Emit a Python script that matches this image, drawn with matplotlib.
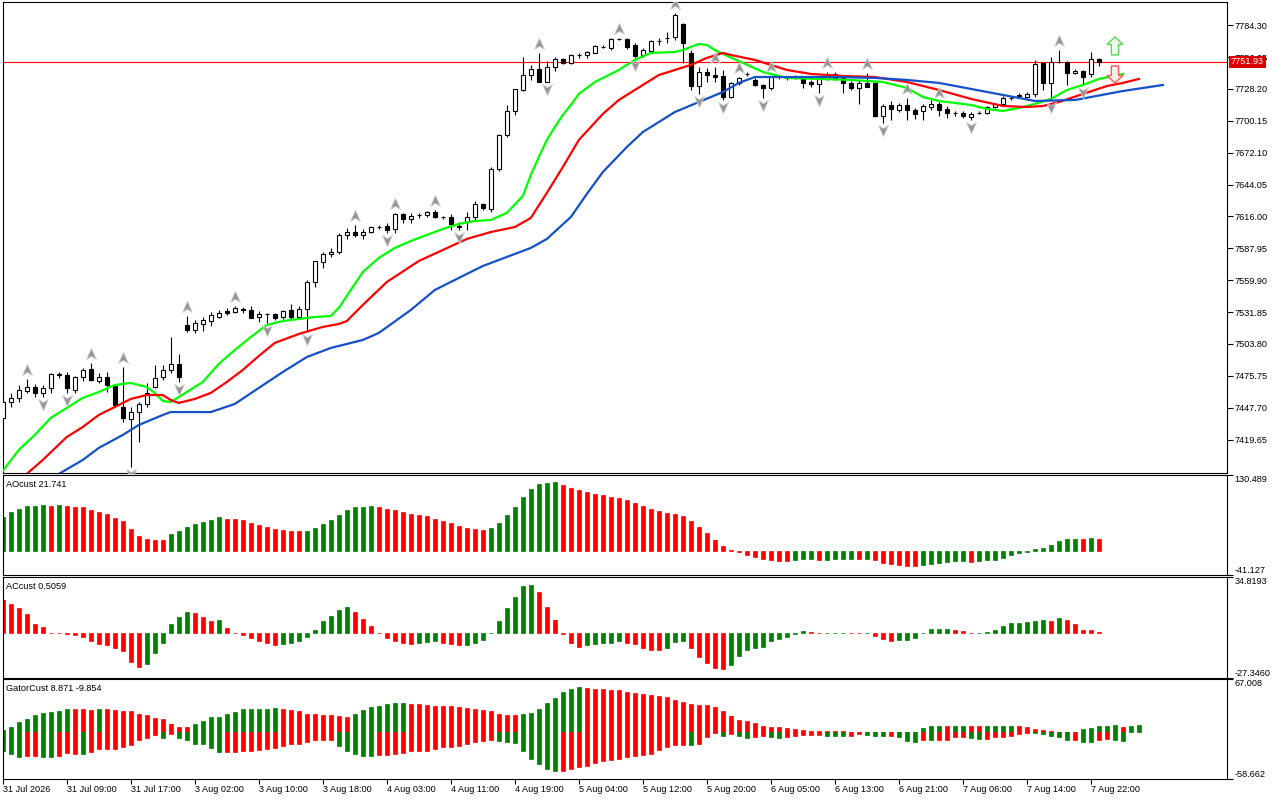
import matplotlib
matplotlib.use("Agg")
import matplotlib.pyplot as plt
from matplotlib.path import Path
from matplotlib.patches import FancyArrow
import numpy as np

plt.rcParams['font.family'] = ['Liberation Sans', 'DejaVu Sans']
plt.rcParams['font.size'] = 6.6

# ---------------- price bars, H1 ----------------
opens = [7438.7, 7452.7, 7456.3, 7462.4, 7465.9, 7460.7, 7465.1, 7477.4, 7476.5, 7463.3,
         7474.7, 7481.8, 7471.2, 7474.7, 7466.8, 7448.3, 7437.8, 7443.9, 7451.0, 7465.9,
         7474.7, 7480.9, 7486.2, 7520.5, 7516.1, 7521.4, 7524.0, 7527.5, 7532.8, 7531.9,
         7534.6, 7533.7, 7527.5, 7530.2, 7530.2, 7527.5, 7533.7, 7527.5, 7534.6, 7558.3,
         7575.9, 7583.0, 7584.7, 7599.7, 7602.3, 7599.7, 7602.3, 7606.7, 7607.6, 7605.0,
         7618.2, 7613.8, 7617.3, 7617.3, 7619.9, 7615.5, 7615.5, 7607.6, 7611.1, 7615.5,
         7627.0, 7622.6, 7657.8, 7687.7, 7708.8, 7727.3, 7740.5, 7745.8, 7734.3, 7747.5,
         7754.6, 7751.1, 7758.1, 7758.1, 7759.9, 7765.1, 7764.3, 7772.2, 7772.2, 7766.9,
         7758.1, 7761.6, 7770.4, 7773.1, 7773.9, 7785.4, 7759.9, 7730.8, 7743.1, 7740.5,
         7739.6, 7721.1, 7733.5, 7741.4, 7736.1, 7731.7, 7729.1, 7738.7, 7737.9, 7738.7,
         7737.9, 7734.3, 7732.6, 7737.0, 7741.4, 7737.9, 7733.5, 7729.1, 7733.5, 7733.5,
         7704.4, 7714.1, 7709.7, 7714.1, 7709.7, 7708.8, 7712.3, 7715.0, 7710.6, 7707.1,
         7707.1, 7703.5, 7707.1, 7707.1, 7712.3, 7715.0, 7720.3, 7722.9, 7721.1, 7723.8,
         7751.1, 7733.5, 7751.9, 7751.9, 7742.3, 7744.0, 7741.4, 7754.6]
highs = [7455.4, 7460.7, 7467.7, 7473.0, 7468.6, 7467.7, 7478.3, 7479.1, 7479.1, 7475.6,
         7482.7, 7487.1, 7478.3, 7479.1, 7467.7, 7483.5, 7448.3, 7452.7, 7469.5, 7485.3,
         7485.3, 7509.9, 7495.0, 7528.4, 7524.9, 7527.5, 7531.9, 7533.7, 7535.5, 7537.2,
         7536.3, 7537.2, 7532.8, 7531.1, 7531.1, 7533.7, 7539.0, 7537.2, 7560.1, 7576.8,
         7584.7, 7588.3, 7601.5, 7605.9, 7608.5, 7605.0, 7607.6, 7608.5, 7610.3, 7619.1,
         7619.1, 7619.1, 7619.1, 7620.8, 7621.7, 7616.4, 7618.2, 7611.1, 7619.9, 7629.6,
         7627.9, 7659.5, 7688.6, 7714.1, 7728.2, 7756.3, 7749.3, 7759.9, 7752.8, 7756.3,
         7755.5, 7759.0, 7759.9, 7761.6, 7766.9, 7766.9, 7773.1, 7773.1, 7773.1, 7768.7,
         7764.3, 7771.3, 7773.1, 7778.3, 7795.1, 7786.3, 7762.5, 7747.5, 7746.7, 7747.5,
         7744.9, 7734.3, 7738.7, 7743.1, 7737.9, 7732.6, 7739.6, 7739.6, 7739.6, 7740.5,
         7739.6, 7736.1, 7738.7, 7743.1, 7743.1, 7739.6, 7735.2, 7736.1, 7742.3, 7734.3,
         7715.0, 7717.6, 7715.9, 7720.3, 7711.5, 7715.0, 7718.5, 7716.7, 7713.2, 7708.8,
         7708.8, 7707.9, 7708.8, 7713.2, 7715.9, 7722.0, 7722.0, 7724.7, 7725.5, 7753.7,
         7751.1, 7756.3, 7762.5, 7752.8, 7745.8, 7744.9, 7760.7, 7755.5]
lows = [7436.9, 7448.3, 7452.7, 7460.7, 7457.1, 7457.1, 7460.7, 7473.9, 7460.7, 7460.7,
        7471.2, 7471.2, 7469.5, 7461.5, 7448.3, 7435.1, 7395.5, 7417.5, 7448.3, 7465.1,
        7472.1, 7478.3, 7470.3, 7514.3, 7513.5, 7515.2, 7519.6, 7526.7, 7529.3, 7531.1,
        7531.1, 7526.7, 7523.1, 7522.3, 7524.9, 7525.8, 7525.8, 7525.8, 7514.3, 7553.9,
        7570.7, 7580.3, 7583.0, 7596.2, 7597.9, 7596.2, 7601.5, 7605.0, 7601.5, 7601.5,
        7610.3, 7610.3, 7614.7, 7615.5, 7614.7, 7613.8, 7604.1, 7604.1, 7604.1, 7612.9,
        7621.7, 7619.9, 7656.0, 7685.9, 7705.3, 7726.4, 7736.1, 7734.3, 7734.3, 7744.0,
        7750.2, 7750.2, 7755.5, 7755.5, 7759.9, 7764.3, 7762.5, 7771.3, 7763.4, 7755.5,
        7756.3, 7760.7, 7766.9, 7768.7, 7771.3, 7751.1, 7727.3, 7723.8, 7734.3, 7734.3,
        7718.5, 7720.3, 7731.7, 7739.6, 7730.8, 7720.3, 7727.3, 7737.0, 7736.1, 7737.0,
        7729.1, 7729.9, 7724.7, 7736.1, 7736.1, 7724.7, 7727.3, 7715.0, 7729.9, 7703.5,
        7698.3, 7700.9, 7707.9, 7700.9, 7701.8, 7700.9, 7709.7, 7704.4, 7702.7, 7704.4,
        7702.7, 7700.9, 7706.2, 7706.2, 7711.5, 7714.1, 7718.5, 7720.3, 7720.3, 7721.1,
        7727.3, 7718.5, 7751.1, 7731.7, 7741.4, 7731.7, 7738.7, 7748.4]
closes = [7452.7, 7456.3, 7463.3, 7465.9, 7460.7, 7465.1, 7477.4, 7476.9, 7465.1, 7474.7,
          7480.9, 7472.1, 7474.7, 7467.7, 7450.1, 7438.7, 7443.9, 7451.0, 7460.7, 7473.9,
          7480.9, 7486.2, 7474.7, 7516.1, 7522.3, 7524.9, 7529.3, 7531.1, 7531.1, 7535.5,
          7533.7, 7526.7, 7530.2, 7530.2, 7526.7, 7532.8, 7527.5, 7534.6, 7558.3, 7576.8,
          7583.0, 7584.7, 7599.7, 7602.3, 7599.7, 7602.3, 7606.7, 7606.7, 7604.1, 7618.2,
          7613.8, 7616.4, 7617.3, 7619.9, 7615.5, 7615.5, 7609.4, 7606.7, 7615.5, 7627.0,
          7623.5, 7657.8, 7687.7, 7708.8, 7728.2, 7740.5, 7745.8, 7734.3, 7747.5, 7754.6,
          7751.1, 7758.1, 7758.1, 7760.7, 7766.0, 7765.1, 7772.2, 7772.2, 7765.1, 7757.2,
          7762.5, 7770.4, 7770.4, 7773.1, 7793.3, 7768.7, 7730.8, 7743.1, 7740.5, 7738.7,
          7721.1, 7733.5, 7737.9, 7741.4, 7731.7, 7729.1, 7738.7, 7738.7, 7737.9, 7738.7,
          7733.5, 7732.6, 7737.0, 7741.4, 7737.9, 7733.5, 7729.1, 7733.5, 7729.9, 7704.4,
          7713.2, 7710.6, 7714.1, 7709.7, 7706.2, 7713.2, 7715.0, 7709.7, 7707.1, 7707.1,
          7704.4, 7706.2, 7707.1, 7712.3, 7715.0, 7720.3, 7720.3, 7722.0, 7723.8, 7750.2,
          7733.5, 7751.9, 7751.9, 7742.3, 7744.0, 7738.7, 7754.6, 7751.93]
last_price = 7751.93

time_labels = ["31 Jul 2026", "31 Jul 09:00", "31 Jul 17:00", "3 Aug 02:00", "3 Aug 10:00",
               "3 Aug 18:00", "4 Aug 03:00", "4 Aug 11:00", "4 Aug 19:00", "5 Aug 04:00",
               "5 Aug 12:00", "5 Aug 20:00", "6 Aug 05:00", "6 Aug 13:00", "6 Aug 21:00",
               "7 Aug 06:00", "7 Aug 14:00", "7 Aug 22:00"]
bars_per_label = 8

# ---------------- alligator (read at sample bars) ----------------
lips_bars = [0, 2, 4, 6, 8, 10, 12, 14, 16, 18, 19, 20, 21, 23, 25, 27, 29, 31, 33, 35,
             37, 39, 41, 42, 43, 45, 47, 49, 51, 53, 55, 57, 59, 61, 63, 65, 66, 67, 68, 69,
             70, 71, 72, 74, 77, 79, 81, 84, 85, 87, 88, 89, 90, 92, 95, 98, 102, 106, 110, 113,
             115, 117, 121, 123, 125, 127, 129, 131, 133, 135, 137, 140]
lips_vals = [7392.0, 7410.5, 7423.7, 7438.7, 7447.5, 7456.3, 7461.5, 7467.7, 7469.5, 7465.9,
             7460.7, 7453.6, 7452.7, 7461.5, 7470.3, 7486.2, 7498.5, 7509.9, 7520.5, 7524.0,
             7525.8, 7527.5, 7528.4, 7535.5, 7546.0, 7567.1, 7579.5, 7588.3, 7594.4, 7599.7,
             7605.0, 7609.4, 7612.0, 7612.9, 7619.1, 7634.0, 7652.5, 7668.3, 7683.3, 7694.7,
             7705.3, 7714.1, 7723.8, 7734.3, 7744.9, 7753.7, 7759.9, 7760.7, 7762.5, 7767.8,
             7766.9, 7762.5, 7759.0, 7752.8, 7743.1, 7737.9, 7737.0, 7736.1, 7734.3, 7729.1,
             7721.1, 7717.6, 7714.1, 7710.6, 7708.8, 7711.5, 7715.0, 7719.4, 7727.3, 7731.7,
             7737.0, 7741.4]
teeth_bars = [3, 5, 8, 10, 12, 14, 16, 18, 20, 21, 22, 24, 26, 28, 30, 32, 34, 37, 40, 42,
              43, 45, 48, 52, 55, 58, 61, 64, 66, 68, 70, 72, 75, 77, 80, 82, 84, 86, 88, 90,
              91, 94, 98, 101, 105, 109, 113, 117, 121, 125, 128, 130, 132, 135, 138, 140, 142]
teeth_vals = [7389.4, 7401.7, 7421.9, 7430.7, 7441.3, 7448.3, 7455.4, 7458.9, 7458.9, 7454.5,
              7451.9, 7455.4, 7460.7, 7470.3, 7480.9, 7493.2, 7504.7, 7512.6, 7518.8, 7521.4,
              7524.0, 7538.1, 7558.3, 7576.8, 7586.5, 7596.2, 7602.3, 7606.7, 7614.7, 7636.7,
              7659.5, 7683.3, 7706.2, 7718.5, 7731.7, 7740.5, 7744.9, 7749.3, 7755.5, 7759.9,
              7758.1, 7753.7, 7744.9, 7741.4, 7739.6, 7738.7, 7734.3, 7727.3, 7719.4, 7713.2,
              7712.3, 7713.2, 7716.7, 7723.8, 7730.8, 7733.5, 7737.0]
jaw_bars = [7, 10, 12, 15, 17, 20, 21, 24, 26, 29, 32, 35, 38, 41, 45, 47, 51, 54, 57, 60,
            62, 64, 66, 68, 71, 73, 75, 78, 80, 84, 87, 90, 92, 94, 96, 100, 104, 109, 113, 117,
            121, 125, 129, 134, 136, 140, 145]
jaw_vals = [7389.4, 7401.7, 7412.3, 7423.7, 7432.5, 7441.3, 7443.9, 7443.9, 7443.9, 7451.0,
            7465.1, 7479.1, 7492.3, 7500.3, 7507.3, 7513.5, 7533.7, 7551.3, 7561.9, 7572.4,
            7577.7, 7583.0, 7588.3, 7596.2, 7615.5, 7635.8, 7655.1, 7677.1, 7690.3, 7707.9,
            7716.7, 7725.5, 7733.5, 7738.7, 7738.7, 7738.7, 7738.7, 7737.9, 7736.1, 7733.5,
            7728.2, 7722.9, 7717.6, 7718.5, 7721.1, 7726.4, 7731.7]

fractal_up = [3, 11, 15, 23, 29, 44, 49, 54, 67, 77, 84, 89, 92, 96, 103, 108, 113, 117, 132]
fractal_dn = [5, 8, 16, 22, 33, 38, 48, 57, 68, 79, 87, 90, 95, 102, 110, 121, 131, 135]

signal_bar = 139
signal_up = (7758.1, 7773.9)   # base, tip
signal_dn = (7748.4, 7733.5)

# ---------------- oscillators ----------------
ao_vals = [58.3, 66.5, 73.0, 77.5, 78.2, 78.6, 78.3, 78.8, 77.6, 76.0,
           75.0, 71.0, 67.0, 64.0, 56.6, 52.0, 37.4, 25.7, 20.4, 18.9,
           18.7, 29.0, 34.4, 40.9, 46.7, 50.2, 53.7, 59.0, 55.6, 55.2,
           53.0, 49.0, 45.0, 41.4, 38.0, 36.0, 35.0, 34.4, 34.6, 39.7,
           46.7, 53.7, 62.4, 71.0, 75.0, 76.3, 76.8, 76.3, 73.0, 69.8,
           66.5, 63.0, 61.3, 59.5, 56.0, 52.5, 49.0, 43.8, 40.3, 38.5,
           36.8, 40.3, 49.0, 61.3, 75.3, 92.8, 106.8, 115.6, 117.3, 117.8,
           113.8, 108.6, 105.0, 101.6, 98.0, 96.3, 92.8, 91.0, 87.6, 82.3,
           77.0, 71.8, 68.3, 64.8, 63.0, 59.5, 52.5, 42.0, 31.5, 19.3,
           8.8, 1.8, -1.2, -7.0, -10.5, -14.0, -15.8, -16.2, -17.5, -15.8,
           -13.4, -13.0, -14.6, -14.2, -13.4, -13.2, -13.0, -13.4, -13.2, -14.6,
           -19.3, -22.2, -24.0, -25.7, -25.9, -24.0, -21.0, -20.4, -18.7, -17.2,
           -17.0, -18.7, -17.0, -15.2, -14.6, -11.7, -7.0, -2.9, -1.2, 4.0,
           5.8, 10.0, 17.5, 21.0, 21.3, 21.0, 22.8, 21.741]
ao_runs = [("G", 6), ("R", 1), ("G", 1), ("R", 13), ("G", 7), ("R", 10), ("G", 9), ("R", 14),
           ("G", 9), ("R", 29), ("G", 3), ("R", 1), ("G", 4), ("R", 1), ("G", 1), ("R", 6),
           ("G", 6), ("R", 1), ("G", 13), ("R", 1), ("G", 1), ("R", 1)]

ac_vals = [20.5, 18.0, 15.7, 11.7, 6.0, 3.8, 0.4, 0.3, -0.4, -0.8,
           -2.5, -4.6, -6.3, -7.1, -8.8, -10.9, -17.8, -20.9, -18.8, -12.1,
           -5.9, 5.4, 10.0, 12.8, 12.6, 10.0, 7.3, 8.0, 3.1, 0.4,
           -1.3, -3.1, -4.6, -5.7, -7.1, -6.9, -5.7, -4.6, -2.1, 2.3,
           7.3, 10.9, 14.2, 16.1, 12.8, 8.6, 4.4, 0.4, -3.1, -5.0,
           -5.7, -6.7, -6.1, -5.2, -5.0, -5.7, -6.7, -7.5, -7.3, -6.1,
           -4.4, 0.2, 7.5, 15.7, 22.6, 28.9, 29.5, 25.1, 16.3, 8.2,
           -0.3, -5.7, -8.2, -7.5, -6.3, -6.1, -5.7, -5.0, -5.7, -6.9,
           -8.8, -10.0, -10.1, -8.8, -5.4, -5.0, -8.8, -14.4, -18.2, -21.3,
           -22.0, -19.5, -13.8, -10.0, -8.8, -8.2, -5.0, -3.8, -2.5, -0.4,
           1.2, 1.0, 0.3, 0.35, 0.4, 0.45, 0.3, 0.2, 0.25, -1.7,
           -3.8, -5.0, -4.4, -4.2, -3.1, 0.1, 2.6, 2.7, 2.8, 2.3,
           1.7, 0.3, 0.35, 0.8, 2.1, 4.2, 6.1, 6.2, 6.7, 7.3,
           8.0, 7.3, 9.2, 8.0, 5.4, 2.3, 2.1, 0.5059]
ac_runs = [("R", 18), ("G", 6), ("R", 3), ("G", 1), ("R", 7), ("G", 9), ("R", 8), ("G", 3),
           ("R", 3), ("G", 9), ("R", 6), ("G", 5), ("R", 5), ("G", 3), ("R", 5), ("G", 10),
           ("R", 2), ("G", 3), ("R", 2), ("G", 1), ("R", 3), ("G", 7), ("R", 3), ("G", 9),
           ("R", 1), ("G", 1), ("R", 5)]

gator_upper = [3.0, 7.3, 12.8, 17.1, 21.4, 24.4, 25.6, 26.9, 29.0, 28.9,
               28.8, 28.7, 29.1, 29.0, 27.8, 26.9, 26.8, 23.5, 21.4, 18.4,
               17.1, 10.7, 7.3, 7.2, 10.7, 15.0, 18.8, 18.9, 22.6, 25.2,
               29.1, 29.2, 29.3, 29.4, 30.3, 29.1, 27.8, 26.5, 23.5, 22.6,
               21.4, 21.3, 20.1, 20.0, 22.6, 27.8, 31.6, 32.9, 35.5, 36.8,
               37.3, 35.9, 35.8, 34.6, 33.3, 33.2, 33.1, 32.0, 30.8, 29.5,
               28.2, 26.9, 23.1, 21.8, 21.7, 23.1, 24.4, 29.5, 37.2, 43.6,
               51.3, 55.1, 56.4, 56.3, 55.1, 55.0, 53.8, 52.6, 51.3, 50.0,
               48.7, 47.4, 46.1, 44.9, 41.0, 38.5, 35.9, 34.6, 34.5, 32.0,
               26.9, 20.5, 15.4, 14.1, 11.5, 7.7, 6.4, 6.3, 6.2, 3.8,
               3.0, 1.7, 1.6, 1.5, 1.4, 1.3, 1.0, 0.5, 0.6, 0.7,
               0.5, 0.4, 0.9, 1.0, 1.1, 5.6, 7.7, 7.8, 7.7, 7.8,
               7.9, 7.8, 7.7, 7.8, 7.9, 8.0, 8.1, 7.9, 6.4, 4.7,
               3.4, 1.7, 0.3, 0.5, 0.9, 3.8, 5.6, 8.0, 8.1, 9.4,
               6.8, 7.7, 9.4]
gator_upper_runs = [("G", 9), ("R", 3), ("G", 1), ("R", 11), ("G", 11), ("R", 9), ("G", 7),
                    ("R", 14), ("G", 8), ("R", 35), ("G", 2), ("R", 2), ("G", 6), ("R", 1),
                    ("G", 2), ("R", 2), ("G", 4), ("R", 6), ("G", 7), ("R", 1), ("G", 2)]
gator_lower = [22.6, 26.9, 30.8, 29.9, 29.8, 30.8, 31.0, 29.9, 26.3, 26.4,
               26.6, 24.8, 20.5, 20.4, 20.3, 18.4, 15.8, 9.8, 6.4, 3.0,
               6.4, 1.3, 6.4, 9.8, 14.1, 14.2, 19.2, 24.4, 24.3, 24.2,
               23.5, 23.3, 21.8, 20.5, 19.2, 17.1, 14.1, 14.0, 11.5, 9.8,
               9.7, 9.6, 17.1, 23.5, 26.9, 29.9, 30.0, 27.8, 27.7, 26.7,
               25.6, 23.1, 23.0, 22.9, 20.1, 18.8, 18.7, 17.1, 15.0, 12.4,
               10.3, 9.4, 10.3, 11.5, 13.7, 23.1, 32.9, 39.3, 45.7, 48.7,
               48.6, 45.7, 43.6, 41.9, 38.0, 35.9, 34.2, 32.9, 30.8, 29.1,
               27.8, 26.5, 21.4, 17.9, 16.2, 16.1, 16.2, 15.0, 6.0, 0.9,
               3.8, 2.1, 3.8, 7.3, 5.1, 5.0, 5.2, 7.3, 6.0, 3.8,
               3.7, 3.6, 3.5, 3.8, 3.9, 4.0, 3.9, 1.7, 3.0, 3.8,
               3.9, 3.8, 5.1, 10.3, 11.5, 9.0, 9.1, 9.0, 8.9, 6.0,
               5.9, 6.8, 7.7, 7.6, 6.0, 5.9, 3.8, 2.1, 0.9, 1.0,
               2.1, 3.8, 6.0, 9.0, 8.9, 11.5, 11.6, 9.4, 7.7, 9.0,
               10.3]
gator_lower_runs = [("G", 3), ("R", 2), ("G", 2), ("R", 3), ("G", 1), ("R", 9), ("G", 1),
                    ("R", 1), ("G", 6), ("R", 14), ("G", 5), ("R", 15), ("G", 8), ("R", 16),
                    ("G", 1), ("R", 3), ("G", 1), ("R", 1), ("G", 2), ("R", 2), ("G", 2),
                    ("R", 5), ("G", 3), ("R", 2), ("G", 3), ("R", 1), ("G", 3), ("R", 1),
                    ("G", 1), ("R", 4), ("G", 2), ("R", 6), ("G", 5), ("R", 1), ("G", 2),
                    ("R", 2), ("G", 2)]

main_ticks = [7784.30, 7756.25, 7728.20, 7700.15, 7672.10, 7644.05, 7616.00, 7587.95,
              7559.90, 7531.85, 7503.80, 7475.75, 7447.70, 7419.65]
main_range = (7390.0, 7804.7)
ao_range = (-41.127, 130.489)
ac_range = (-27.3460, 34.8193)
gator_range = (-58.662, 67.008)

HIST = {"G": "#008000", "R": "#ff0000"}


def expand(runs):
    out = []
    for key, count in runs:
        out += [HIST[key]] * count
    return out


fig = plt.figure(figsize=(12.8, 8), dpi=100)
fig.patch.set_facecolor("white")
left, width = 2.7 / 1280, (1227 - 2.7) / 1280


def panel(top_px, bottom_px):
    a = fig.add_axes([left, 1 - bottom_px / 800, width, (bottom_px - top_px) / 800])
    a.set_xlim(0, 153)
    for s in a.spines.values():
        s.set_linewidth(0.8)
        s.set_color("black")
    a.yaxis.tick_right()
    a.tick_params(axis="y", direction="out", length=4, width=0.8, pad=1.5, labelsize=6.6)
    a.set_xticks([])
    return a


ax = panel(2, 473.3)
ao_ax = panel(475, 575.3)
ac_ax = panel(576.7, 677.7)
gt_ax = panel(679, 779.3)

# ---- candles ----
o, h, l, c = map(np.array, (opens, highs, lows, closes))
idx = np.arange(len(c))
bull = c >= o
ax.vlines(idx, l, h, color="black", lw=0.8, zorder=3)
ax.bar(idx, np.abs(c - o), bottom=np.minimum(o, c), width=0.5,
       color=np.where(bull, "white", "black"), edgecolor="black", lw=0.8, zorder=4)

ax.axhline(last_price, color="#ff0000", lw=0.8, zorder=2)

ax.plot(lips_bars, lips_vals, color="#00ff00", lw=1.6, zorder=5)
ax.plot(teeth_bars, teeth_vals, color="#ff0000", lw=1.6, zorder=5)
ax.plot(jaw_bars, jaw_vals, color="#1450c8", lw=1.6, zorder=5)

# fractal arrowheads
up_head = Path([(0, 1), (0.8, -0.8), (0, -0.3), (-0.8, -0.8), (0, 1)],
               [Path.MOVETO, Path.LINETO, Path.LINETO, Path.LINETO, Path.CLOSEPOLY])
dn_head = Path([(0, -1), (0.8, 0.8), (0, 0.3), (-0.8, 0.8), (0, -1)],
               [Path.MOVETO, Path.LINETO, Path.LINETO, Path.LINETO, Path.CLOSEPOLY])
ax.plot(fractal_up, [highs[i] + 8 for i in fractal_up], ls="none", marker=up_head, ms=9,
        mfc="#959595", mec="#d2d2d2", mew=0.6, zorder=6)
ax.plot(fractal_dn, [lows[i] - 6.5 for i in fractal_dn], ls="none", marker=dn_head, ms=9,
        mfc="#959595", mec="#d2d2d2", mew=0.6, zorder=6)

# signal arrows
ax.add_patch(FancyArrow(signal_bar, signal_up[0], 0, signal_up[1] - signal_up[0], width=0.9,
                        head_width=2.0, head_length=6.5, length_includes_head=True,
                        fc="#eeffee", ec="#55d855", lw=1.0, zorder=7))
ax.add_patch(FancyArrow(signal_bar, signal_dn[0], 0, signal_dn[1] - signal_dn[0], width=0.9,
                        head_width=2.0, head_length=6.5, length_includes_head=True,
                        fc="#fff0f0", ec="#ff5555", lw=1.0, zorder=7))

ax.set_ylim(*main_range)
ax.set_yticks(main_ticks)
ax.set_yticklabels([f"{v:.2f}" for v in main_ticks])
ax.text(1.003, last_price, f"{last_price:.2f}", transform=ax.get_yaxis_transform(),
        color="white", va="center", ha="left", fontsize=6.6, zorder=10, clip_on=False,
        bbox=dict(boxstyle="square,pad=0.2", fc="#dd0000", ec="none"))

# ---- oscillators ----
ao_ax.bar(np.arange(len(ao_vals)), ao_vals, width=0.5, color=expand(ao_runs),
          edgecolor=expand(ao_runs), lw=0.5)
ac_ax.bar(np.arange(len(ac_vals)), ac_vals, width=0.5, color=expand(ac_runs),
          edgecolor=expand(ac_runs), lw=0.5)
gt_ax.bar(np.arange(len(gator_upper)), gator_upper, width=0.5, color=expand(gator_upper_runs),
          edgecolor=expand(gator_upper_runs), lw=0.5)
gt_ax.bar(np.arange(len(gator_lower)), -np.array(gator_lower), width=0.5,
          color=expand(gator_lower_runs), edgecolor=expand(gator_lower_runs), lw=0.5)


def edge_scale(a, lo, hi, lo_txt, hi_txt):
    a.set_ylim(lo, hi)
    a.set_yticks([lo, hi])
    a.set_yticklabels([lo_txt, hi_txt])
    labs = a.get_yticklabels()
    labs[0].set_verticalalignment("bottom")
    labs[1].set_verticalalignment("top")


edge_scale(ao_ax, *ao_range, "-41.127", "130.489")
edge_scale(ac_ax, *ac_range, "-27.3460", "34.8193")
edge_scale(gt_ax, *gator_range, "-58.662", "67.008")

for a, name in ((ao_ax, "AOcust 21.741"), (ac_ax, "ACcust 0.5059"),
                (gt_ax, "GatorCust 8.871 -9.854")):
    a.text(0.0027, 0.95, name, transform=a.transAxes, va="top", ha="left", fontsize=6.6)

gt_ax.set_xticks(np.arange(len(time_labels)) * bars_per_label)
gt_ax.set_xticklabels(time_labels, ha="left")
gt_ax.tick_params(axis="x", direction="out", length=3.5, width=0.8, pad=0.5, labelsize=6.6)

fig.savefig("out.png", dpi=100, facecolor="white")
